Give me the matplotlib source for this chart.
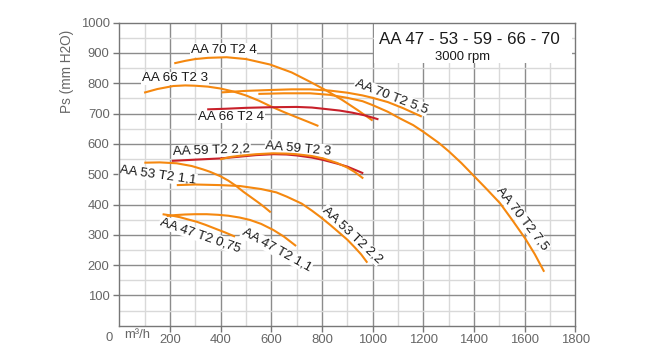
import matplotlib
matplotlib.use("Agg")
import matplotlib.pyplot as plt
from matplotlib.patches import Rectangle

plt.rcParams["font.family"] = ["Liberation Sans", "DejaVu Sans"]

ORANGE = "#F5880F"
RED = "#C8202A"
GRID_MAJ = "#8C8C8C"
GRID_MIN = "#D9D9D9"
TICK_COL = "#666666"

# ─── curves (flow m3/h, pressure mm H2O) ────────────────────────────────────
aa70_4_x = [217, 260, 300, 350, 424, 500, 595, 680, 753, 820, 880, 940, 1000]
aa70_4_y = [866, 874, 880, 884, 886, 880, 862, 836, 805, 775, 745, 712, 677]

aa70_55_x = [404, 500, 600, 680, 753, 830, 900, 960, 1000, 1060, 1120, 1194]
aa70_55_y = [770, 775, 778, 780, 780, 776, 769, 760, 752, 738, 718, 690]

aa70_75_x = [549, 650, 753, 830, 900, 960, 1000, 1060, 1108, 1160, 1200,
             1260, 1300, 1350, 1400, 1450, 1503, 1550, 1602, 1640, 1677]
aa70_75_y = [765, 767, 767, 762, 752, 741, 728, 706, 684, 662, 640,
             604, 576, 537, 494, 451, 404, 350, 288, 236, 178]

aa66_3_x = [98, 150, 213, 260, 300, 350, 398, 450, 500, 550, 595, 650, 700, 745, 786]
aa66_3_y = [769, 781, 791, 793, 792, 789, 783, 773, 760, 743, 725, 705, 688, 673, 659]

aa66_4_x = [347, 420, 500, 595, 700, 760, 805, 870, 920, 970, 1023]
aa66_4_y = [714, 716, 719, 721, 722, 720, 716, 710, 703, 694, 681]

aa59_22_x = [207, 300, 398, 477, 540, 608, 660, 700, 760, 805, 860, 900, 963]
aa59_22_y = [544, 548, 552, 558, 563, 566, 565, 562, 555, 547, 535, 525, 503]

aa59_3_x = [398, 440, 477, 540, 608, 660, 700, 760, 805, 860, 900, 930, 963]
aa59_3_y = [549, 557, 561, 566, 569, 568, 566, 560, 552, 537, 522, 507, 486]

aa53_11_x = [99, 160, 227, 286, 330, 358, 400, 430, 460, 490, 520, 550, 575, 598]
aa53_11_y = [538, 539, 536, 527, 516, 508, 493, 479, 462, 442, 424, 406, 390, 374]

aa53_22_x = [227, 300, 398, 476, 560, 620, 661, 720, 760, 792, 832, 871, 900, 930, 955, 979]
aa53_22_y = [464, 466, 464, 461, 451, 440, 426, 403, 380, 360, 333, 305, 284, 258, 235, 208]

aa47_075_x = [171, 210, 240, 270, 306, 340, 380, 420, 457]
aa47_075_y = [368, 363, 358, 351, 343, 333, 320, 307, 294]

aa47_11_x = [187, 220, 260, 300, 345, 390, 430, 475, 516, 560, 608, 650, 698]
aa47_11_y = [362, 365, 367, 368, 368, 366, 363, 357, 349, 336, 316, 294, 263]

curves = [
    (aa70_4_x, aa70_4_y, ORANGE),
    (aa70_55_x, aa70_55_y, ORANGE),
    (aa70_75_x, aa70_75_y, ORANGE),
    (aa66_3_x, aa66_3_y, ORANGE),
    (aa66_4_x, aa66_4_y, RED),
    (aa59_22_x, aa59_22_y, RED),
    (aa59_3_x, aa59_3_y, ORANGE),
    (aa53_11_x, aa53_11_y, ORANGE),
    (aa53_22_x, aa53_22_y, ORANGE),
    (aa47_075_x, aa47_075_y, ORANGE),
    (aa47_11_x, aa47_11_y, ORANGE),
]

# label text, x, y, rotation
labels = [
    ("AA 70 T2 4", 412, 910, 0),
    ("AA 66 T2 3", 220, 816, 0),
    ("AA 66 T2 4", 441, 690, 0),
    ("AA 59 T2 2,2", 365, 578, 2),
    ("AA 59 T2 3", 707, 585, -5),
    ("AA 53 T2 1,1", 153, 497, -8),
    ("AA 70 T2 5,5", 1074, 756, -21),
    ("AA 70 T2 7,5", 1592, 352, -52),
    ("AA 53 T2 2,2", 919, 299, -43),
    ("AA 47 T2 0,75", 319, 299, -19),
    ("AA 47 T2 1,1", 621, 250, -29),
]

x_ticks = [200, 400, 600, 800, 1000, 1200, 1400, 1600, 1800]
y_ticks = [100, 200, 300, 400, 500, 600, 700, 800, 900, 1000]

fig = plt.figure(figsize=(6.7, 3.58), dpi=100)
ax = fig.add_axes([0.178, 0.0902, 0.6807, 0.8464])
ax.set_xlim(0, 1800)
ax.set_ylim(0, 1000)

# grid: dark every 200 / 100, light in between
for v in range(100, 1800, 100):
    ax.axvline(v, color=GRID_MAJ if v % 200 == 0 else GRID_MIN, lw=1.0, zorder=0.5)
for v in range(50, 1000, 50):
    ax.axhline(v, color=GRID_MAJ if v % 100 == 0 else GRID_MIN, lw=1.0, zorder=0.5)

for s in ax.spines.values():
    s.set_color("#777777")
    s.set_linewidth(1.0)
    s.set_zorder(3)

ax.set_xticks(x_ticks)
ax.set_xticklabels([str(v) for v in x_ticks])
ax.set_yticks(y_ticks)
ax.set_yticklabels([str(v) for v in y_ticks])
ax.tick_params(length=4, width=1, color="#777777", labelcolor=TICK_COL,
               labelsize=9.4, pad=3)
ax.tick_params(axis="x", pad=2)

ax.text(-0.015, -0.02, "0", transform=ax.transAxes, ha="right", va="top",
        fontsize=9.4, color=TICK_COL)
ax.text(72, -10, "m³/h", ha="center", va="top", fontsize=9.4, color=TICK_COL)
ax.text(-0.115, 0.84, "Ps (mm H2O)", transform=ax.transAxes, rotation=90,
        ha="center", va="center", fontsize=9.8, color=TICK_COL)

# title box
ax.add_patch(Rectangle((1006, 866), 780, 134, facecolor="white",
                       edgecolor="none", zorder=1.5))
ax.text(1381, 945, "AA 47 - 53 - 59 - 66 - 70", ha="center", va="center",
        fontsize=12.2, color="#1a1a1a", zorder=4)
ax.text(1353, 888, "3000 rpm", ha="center", va="center",
        fontsize=9.4, color="#1a1a1a", zorder=4)

for xs, ys, col in curves:
    ax.plot(xs, ys, color=col, lw=1.5, zorder=2, solid_capstyle="butt",
            solid_joinstyle="round")

for txt, x, y, rot in labels:
    ax.text(x, y, txt, ha="center", va="center", rotation=rot,
            rotation_mode="anchor", fontsize=9.6, color="#1a1a1a", zorder=1.8,
            bbox=dict(facecolor="white", edgecolor="none", pad=0.5))

fig.savefig("out.png", dpi=100)
